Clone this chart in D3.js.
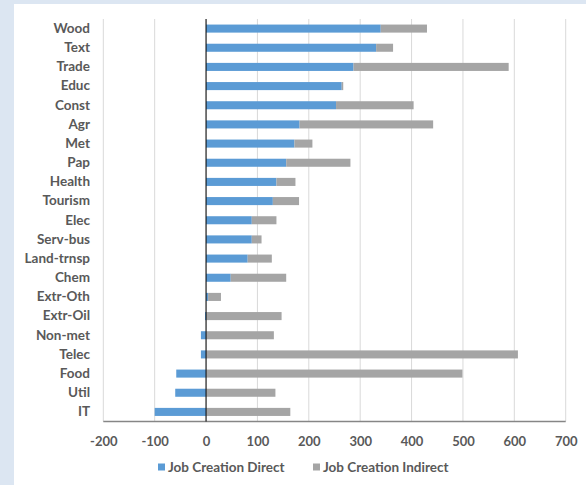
<!DOCTYPE html>
<html>
<head>
<meta charset="utf-8">
<script src="https://cdn.jsdelivr.net/npm/d3@7"></script>
<style>
  html, body { margin: 0; padding: 0; background: #dce6f2; }
  svg { display: block; }
</style>
</head>
<body>
<svg id="chart" width="586" height="485"></svg>
<script>
const categories = ["Wood","Text","Trade","Educ","Const","Agr","Met","Pap","Health","Tourism","Elec","Serv-bus","Land-trnsp","Chem","Extr-Oth","Extr-Oil","Non-met","Telec","Food","Util","IT"];
const directValues = [340, 331, 287, 264, 253, 182, 172, 156, 137, 130, 89, 89, 81, 48, 4, -2, -10, -10, -58, -60, -100];
const indirectValues = [90, 33, 302, 3, 151, 260, 35, 125, 37, 51, 48, 19, 47, 108, 25, 147, 132, 607, 499, 135, 164];
const xTicks = [-200, -100, 0, 100, 200, 300, 400, 500, 600, 700];
const seriesNames = ["Job Creation Direct", "Job Creation Indirect"];
const seriesColors = ["#5b9bd5", "#a5a5a5"];

const rows = categories.map((c, i) => ({ cat: c, direct: directValues[i], indirect: indirectValues[i] }));
const keys = ["direct", "indirect"];

const svg = d3.select("#chart");
const font = "Lato, 'Open Sans', sans-serif";

// white panel
svg.append("rect").attr("x", 14).attr("y", 4).attr("width", 586 - 14).attr("height", 485 - 4).attr("fill", "#ffffff");

const plotLeft = 103.3, plotRight = 565.7, plotTop = 19, plotBottom = 421.5;
const x = d3.scaleLinear().domain([-200, 700]).range([plotLeft, plotRight]);
const y = d3.scaleBand().domain(categories).range([plotTop, plotBottom]).paddingInner(0.58).paddingOuter(0.29);

// gridlines
svg.append("g").selectAll("line").data(xTicks).join("line")
  .attr("x1", d => x(d)).attr("x2", d => x(d))
  .attr("y1", plotTop).attr("y2", plotBottom)
  .attr("stroke", "#d9d9d9").attr("stroke-width", 1);

const stack = d3.stack().keys(keys).offset(d3.stackOffsetDiverging);
const series = stack(rows);

svg.append("g").selectAll("g").data(series).join("g")
  .attr("fill", (d, i) => seriesColors[i])
  .selectAll("rect").data(d => d).join("rect")
  .attr("x", d => x(Math.min(d[0], d[1])))
  .attr("width", d => Math.abs(x(d[1]) - x(d[0])))
  .attr("y", d => y(d.data.cat))
  .attr("height", y.bandwidth());

// bottom axis line
svg.append("line").attr("x1", plotLeft).attr("x2", plotRight).attr("y1", plotBottom).attr("y2", plotBottom)
  .attr("stroke", "#868686").attr("stroke-width", 1.5);

// zero (category axis) line
svg.append("line").attr("x1", x(0)).attr("x2", x(0)).attr("y1", plotTop).attr("y2", plotBottom)
  .attr("stroke", "#000000").attr("stroke-width", 1);

// x tick labels
const xAxis = d3.axisBottom(x).tickValues(xTicks).tickSize(0).tickPadding(0).tickFormat(d => String(d));
const gx = svg.append("g").attr("transform", `translate(0, ${plotBottom})`).call(xAxis);
gx.select(".domain").remove();
gx.selectAll("text")
  .attr("y", 20).attr("dy", "0.32em")
  .attr("fill", "#595959").attr("font-family", font).attr("font-weight", "bold").attr("font-size", "13px");

// category labels
const yAxis = d3.axisLeft(y).tickSize(0).tickPadding(0);
const gy = svg.append("g").attr("transform", `translate(90, 0)`).call(yAxis);
gy.select(".domain").remove();
gy.selectAll("text")
  .attr("fill", "#595959").attr("font-family", font).attr("font-weight", "bold").attr("font-size", "13.5px");

// legend
const legend = svg.append("g");
const legendItems = [{ x: 158, name: seriesNames[0], color: seriesColors[0] }, { x: 313, name: seriesNames[1], color: seriesColors[1] }];
const lg = legend.selectAll("g").data(legendItems).join("g").attr("transform", d => `translate(${d.x}, 467)`);
lg.append("rect").attr("x", 0).attr("y", -3.5).attr("width", 7).attr("height", 7).attr("fill", d => d.color);
lg.append("text").attr("x", 10).attr("y", 0).attr("dy", "0.35em")
  .attr("fill", "#595959").attr("font-family", font).attr("font-weight", "bold").attr("font-size", "13.5px")
  .text(d => d.name);
</script>
</body>
</html>
